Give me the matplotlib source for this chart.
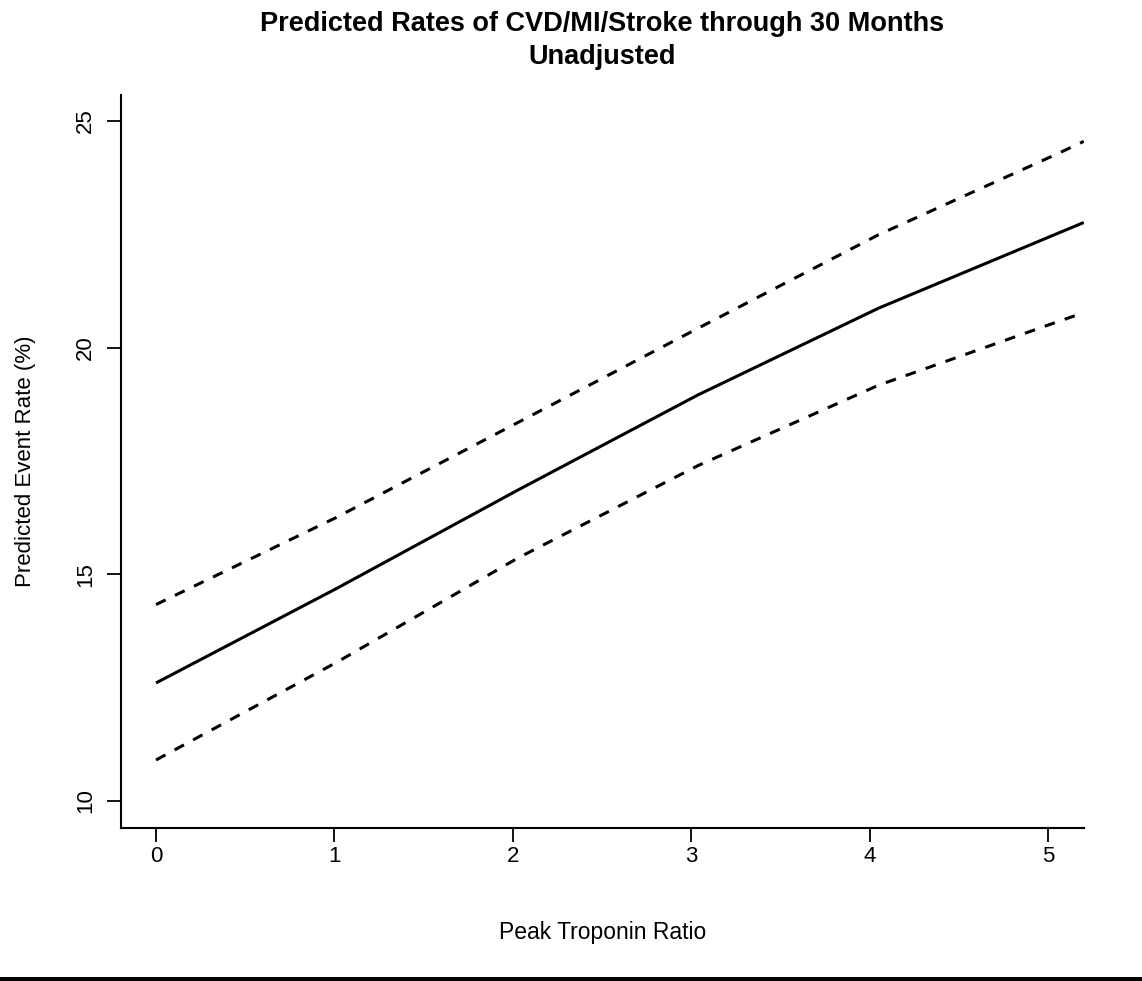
import numpy as np
import matplotlib
matplotlib.use("Agg")
import matplotlib.pyplot as plt
from matplotlib.patches import Rectangle

plt.rcParams['font.family'] = ['Liberation Sans', 'DejaVu Sans']

# values
troponin = [0, 1.01, 2.03, 3.04, 4.05, 5.06, 5.2]
rate_fit = [12.60, 14.68, 16.86, 18.96, 20.87, 22.53, 22.76]
rate_upper = [14.33, 16.25, 18.35, 20.43, 22.49, 24.29, 24.55]
rate_lower = [10.90, 13.05, 15.36, 17.40, 19.17, 20.58, 20.77]

x_ticks = [0, 1, 2, 3, 4, 5]
y_ticks = [10, 15, 20, 25]

fig = plt.figure(figsize=(11.42, 9.81), dpi=100)
ax_left, ax_width = 0.106, 0.843
ax = fig.add_axes([ax_left, 0.156, ax_width, 0.747])

ax.plot(troponin, rate_fit, color='black', lw=2.2, solid_capstyle='butt')
for band in (rate_upper, rate_lower):
    ax.plot(troponin, band, color='black', lw=2.2, dashes=(3.5, 3.4),
            dash_capstyle='butt')

ax.set_xlim(-0.196, 5.2)
ax.set_ylim(9.40, 25.57)
ax.set_xticks(x_ticks)
ax.set_yticks(y_ticks)
ax.tick_params(axis='both', direction='out', length=10, width=1.3,
               labelsize=16)
ax.tick_params(axis='x', pad=3)
ax.tick_params(axis='y', pad=8)
for lab in ax.get_yticklabels():
    lab.set_rotation(90)
    lab.set_verticalalignment('center')

for side in ('top', 'right'):
    ax.spines[side].set_visible(False)
for side in ('left', 'bottom'):
    ax.spines[side].set_linewidth(1.5)

ax.set_xlabel('Peak Troponin Ratio', fontsize=16.5, labelpad=39)
ax.set_ylabel('Predicted Event Rate (%)', fontsize=16, labelpad=28)

# title centred over the plot region, like R does
title_x = ax_left + ax_width / 2
fig.text(title_x, 1 - 24 / 981, 'Predicted Rates of CVD/MI/Stroke through 30 Months',
         ha='center', va='center', fontsize=19.5, fontweight='bold')
fig.text(title_x, 1 - 57 / 981, 'Unadjusted',
         ha='center', va='center', fontsize=19.5, fontweight='bold')

# thick rule along the bottom of the picture
fig.patches.append(Rectangle((0, 0), 1, 4 / 981, transform=fig.transFigure,
                             facecolor='black', edgecolor='none'))

fig.savefig('out.png', dpi=100)
